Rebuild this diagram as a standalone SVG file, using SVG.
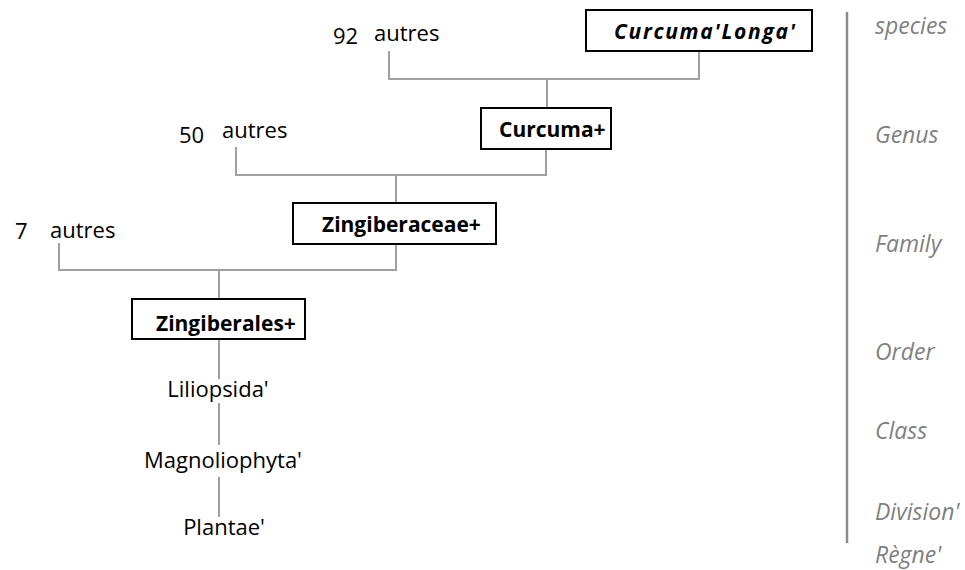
<svg xmlns="http://www.w3.org/2000/svg" width="965" height="570" viewBox="0 0 965 570">
<style>
.t{font-family:"Open Sans","Liberation Sans",sans-serif;font-size:22px;fill:#000}
.b{font-family:"Open Sans","Liberation Sans",sans-serif;font-size:21px;font-weight:bold;fill:#000}
.ax{font-family:"Open Sans","Liberation Sans",sans-serif;font-size:23px;font-style:italic;fill:#7f7f7f}
.box{fill:#fff;stroke:#000;stroke-width:2}
.ln{fill:none;stroke:#a0a0a0;stroke-width:2}
</style>
<rect width="965" height="570" fill="#fff"/>
<g id="connectors">
<path class="ln" d="M389,51 V79 H699 V52 M547,79 V108"/>
<path class="ln" d="M236,147 V175 H546 V149 M396,175 V203"/>
<path class="ln" d="M59,243 V270 H396 V244 M219,270 V299"/>
<path class="ln" d="M219,339 V379 M219,403 V445 M219,477 V517"/>
<path d="M847,12 V543" fill="none" stroke="#8c8c8c" stroke-width="2.5"/>
</g>
<g id="n-92"><text class="t" x="333" y="44">92</text><text class="t" x="374" y="41">autres</text></g>
<g id="n-curcuma-longa"><rect class="box" x="586" y="10" width="226" height="41"/><text class="b" x="614" y="39" font-style="italic" font-size="23" textLength="181" lengthAdjust="spacing">Curcuma'Longa'</text></g>
<g id="n-50"><text class="t" x="179" y="143">50</text><text class="t" x="222" y="138">autres</text></g>
<g id="n-curcuma"><rect class="box" x="481" y="108" width="130" height="41"/><text class="b" x="499" y="137">Curcuma+</text></g>
<g id="n-7"><text class="t" x="15" y="239">7</text><text class="t" x="50" y="238">autres</text></g>
<g id="n-zingiberaceae"><rect class="box" x="293" y="203" width="203" height="41"/><text class="b" x="322" y="232">Zingiberaceae+</text></g>
<g id="n-zingiberales"><rect class="box" x="132" y="299" width="173" height="40"/><text class="b" x="156" y="331">Zingiberales+</text></g>
<g id="n-liliopsida"><text class="t" x="218" y="397" text-anchor="middle">Liliopsida'</text></g>
<g id="n-magnoliophyta"><text class="t" x="223" y="468" text-anchor="middle">Magnoliophyta'</text></g>
<g id="n-plantae"><text class="t" x="224" y="535" text-anchor="middle">Plantae'</text></g>
<g id="axis">
<text class="ax" x="875" y="34">species</text>
<text class="ax" x="875" y="143">Genus</text>
<text class="ax" x="875" y="252">Family</text>
<text class="ax" x="875" y="360">Order</text>
<text class="ax" x="875" y="439">Class</text>
<text class="ax" x="875" y="520">Division'</text>
<text class="ax" x="875" y="563">Règne'</text>
</g>
</svg>
